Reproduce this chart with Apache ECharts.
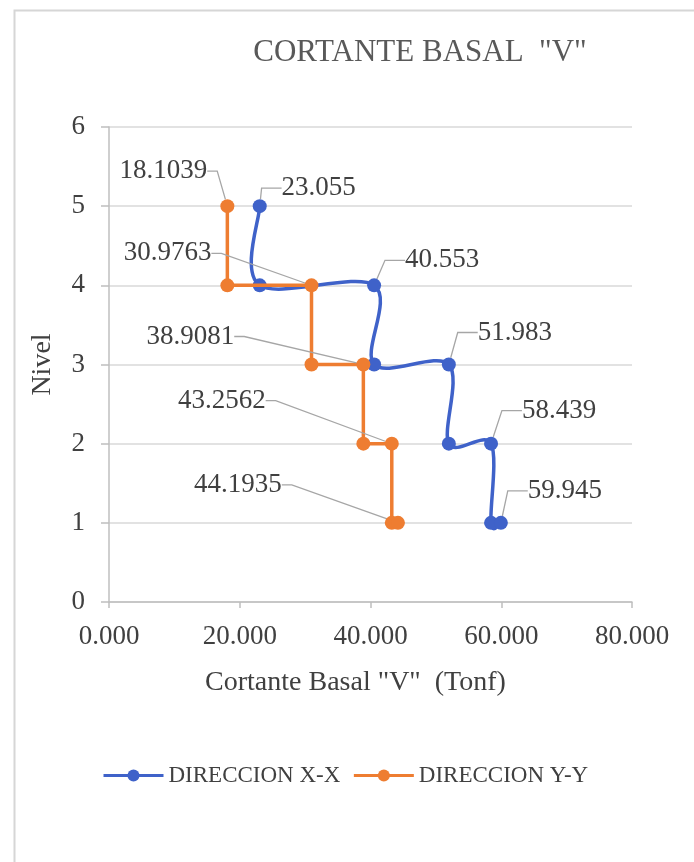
<!DOCTYPE html>
<html>
<head>
<meta charset="utf-8">
<title>Cortante Basal V</title>
<script src="https://cdn.jsdelivr.net/npm/echarts@6/dist/echarts.min.js"></script>
<style>
  html, body { margin: 0; padding: 0; background: #ffffff; }
  #chart { width: 694px; height: 862px; }
</style>
</head>
<body>
<div id="chart"></div>
<script>
// Storey levels, top to bottom
const levels = [5, 4, 3, 2, 1];
// Base shear per level (Tonf)
const shearXX = [23.055, 40.553, 51.983, 58.439, 59.945];
const shearYY = [18.1039, 30.9763, 38.9081, 43.2562, 44.1935];
// Axis ticks
const xTicks = [0, 20, 40, 60, 80];
const yTicks = [0, 1, 2, 3, 4, 5, 6];
const seriesNames = ['DIRECCION X-X', 'DIRECCION Y-Y'];

// Label offsets (px) from each labelled point to its label centre
const offsetsXX = [[59, -18], [68, -25], [66, -32], [68, -33], [64, -32]];
const offsetsYY = [[-64, -35], [-144, -32], [-173, -28], [-170, -43], [-160, -38]];

const FONT = '"Liberation Serif", "Times New Roman", serif';
const TXT = '#404040';
const BLUE = '#3f62c9';
const ORANGE = '#ee7d31';

// Stepped profile: each level's value, then the same value carried down one level
function stepped(values) {
  const pts = [];
  const labelled = [];
  for (let i = 0; i < values.length; i++) {
    labelled.push(pts.length);
    pts.push({ value: [values[i], levels[i]], label: { show: true } });
    if (i < values.length - 1) {
      pts.push({ value: [values[i], levels[i + 1]], label: { show: false } });
    }
  }
  return { pts, labelled };
}

const sx = stepped(shearXX);
const sy = stepped(shearYY);

function layoutFor(info, offsets) {
  return function (params) {
    const k = info.labelled.indexOf(params.dataIndex);
    if (k < 0) return {};
    return { dx: offsets[k][0], dy: offsets[k][1] };
  };
}

// Smoothed connector (Catmull-Rom style cubic) between consecutive points
function smoothSegment(info, color) {
  const vals = info.pts.map(p => p.value);
  return function (params, api) {
    const i = params.dataIndex;
    if (i >= vals.length - 1) return null;
    const p0 = api.coord(vals[Math.max(i - 1, 0)]);
    const p1 = api.coord(vals[i]);
    const p2 = api.coord(vals[i + 1]);
    const p3 = api.coord(vals[Math.min(i + 2, vals.length - 1)]);
    const t = 1 / 6;
    return {
      type: 'bezierCurve',
      shape: {
        x1: p1[0], y1: p1[1],
        x2: p2[0], y2: p2[1],
        cpx1: p1[0] + (p2[0] - p0[0]) * t,
        cpy1: p1[1] + (p2[1] - p0[1]) * t,
        cpx2: p2[0] - (p3[0] - p1[0]) * t,
        cpy2: p2[1] - (p3[1] - p1[1]) * t
      },
      style: { stroke: color, lineWidth: 3.5, fill: null, lineCap: 'round' }
    };
  };
}

const chart = echarts.init(document.getElementById('chart'), null, { renderer: 'canvas' });

chart.setOption({
  backgroundColor: '#ffffff',
  animation: false,
  graphic: [{
    type: 'rect',
    left: 12, top: 8,
    shape: { width: 720, height: 900 },
    style: { fill: 'none', stroke: '#d6d6d6', lineWidth: 2 },
    silent: true
  }],
  title: {
    text: 'CORTANTE BASAL  "V"',
    left: 415,
    top: 32,
    textAlign: 'center',
    textStyle: { fontFamily: FONT, fontSize: 31, fontWeight: 'normal', color: '#595959' }
  },
  legend: {
    data: [
      { name: seriesNames[0], lineStyle: { opacity: 1, color: BLUE, width: 3 } },
      { name: seriesNames[1], lineStyle: { color: ORANGE, width: 3 } }
    ],
    left: 97,
    top: 759,
    itemWidth: 60,
    itemHeight: 15,
    itemGap: 12,
    textStyle: { fontFamily: FONT, fontSize: 23, color: TXT }
  },
  grid: { left: 109, right: 62, top: 127, bottom: 260, containLabel: false },
  xAxis: {
    type: 'value',
    min: xTicks[0],
    max: xTicks[xTicks.length - 1],
    interval: xTicks[1] - xTicks[0],
    name: 'Cortante Basal "V"  (Tonf)',
    nameLocation: 'middle',
    nameGap: 67,
    nameTextStyle: { fontFamily: FONT, fontSize: 28, color: TXT, padding: [0, 30, 0, 0] },
    axisLine: { show: true, lineStyle: { color: '#bfbfbf', width: 1.5 } },
    axisTick: { show: true, length: 6, lineStyle: { color: '#bfbfbf', width: 1.5 } },
    axisLabel: {
      margin: 21,
      fontFamily: FONT, fontSize: 27, color: TXT,
      formatter: v => v.toFixed(3)
    },
    splitLine: { show: false }
  },
  yAxis: {
    type: 'value',
    min: yTicks[0],
    max: yTicks[yTicks.length - 1],
    interval: yTicks[1] - yTicks[0],
    name: 'Nivel',
    nameLocation: 'middle',
    nameGap: 52,
    nameRotate: 90,
    nameTextStyle: { fontFamily: FONT, fontSize: 28, color: TXT },
    axisLine: { show: true, lineStyle: { color: '#bfbfbf', width: 1.5 } },
    axisTick: { show: true, length: 8, lineStyle: { color: '#bfbfbf', width: 1.5 } },
    axisLabel: { margin: 24, fontFamily: FONT, fontSize: 27, color: TXT },
    splitLine: { show: true, lineStyle: { color: '#d9d9d9', width: 1.5 } }
  },
  series: [
    {
      name: seriesNames[0],
      type: 'line',
      data: sx.pts,
      symbol: 'circle',
      symbolSize: 14,
      lineStyle: { color: BLUE, width: 3.5, opacity: 0 },
      itemStyle: { color: BLUE },
      label: {
        position: 'inside',
        fontFamily: FONT, fontSize: 27, color: TXT,
        formatter: p => String(p.value[0])
      },
      labelLine: { show: true, length2: 20, lineStyle: { color: '#a6a6a6', width: 1.3 } },
      labelLayout: layoutFor(sx, offsetsXX),
      z: 3
    },
    {
      type: 'custom',
      data: sx.pts.map(p => p.value),
      renderItem: smoothSegment(sx, BLUE),
      silent: true,
      z: 2
    },
    {
      name: seriesNames[1],
      type: 'line',
      data: sy.pts,
      smooth: false,
      symbol: 'circle',
      symbolSize: 14,
      lineStyle: { color: ORANGE, width: 3.5 },
      itemStyle: { color: ORANGE },
      label: {
        position: 'inside',
        fontFamily: FONT, fontSize: 27, color: TXT,
        formatter: p => String(p.value[0])
      },
      labelLine: { show: true, length2: 10, lineStyle: { color: '#a6a6a6', width: 1.3 } },
      labelLayout: layoutFor(sy, offsetsYY),
      z: 4
    }
  ]
});
</script>
</body>
</html>
